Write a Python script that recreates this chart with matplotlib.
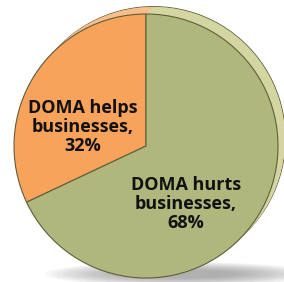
import numpy as np
import matplotlib.pyplot as plt
from matplotlib.patches import Ellipse

labels = ['DOMA helps\nbusinesses,\n32%', 'DOMA hurts\nbusinesses,\n68%']
shares = [32, 68]
front_colors = ['#F8A35C', '#B0B77D']
side_colors = ['#F6BE8A', '#D4D6A2']
edge = '#5E5E3C'

W, H = 284, 282
fig = plt.figure(figsize=(W / 100, H / 100), dpi=100)
ax = fig.add_axes([0, 0, 1, 1])

cx, cy, r = 146, 136, 132
off = np.array([7.5, 7.5])

# soft shadow under the disc
for i in range(14):
    ax.add_patch(Ellipse((180, 8), 270 - i * 12, 24 - i * 1.2,
                         color='#707070', alpha=0.05, lw=0, zorder=0))

# side of the disc (extrusion toward upper right)
ax.pie(shares, colors=side_colors, startangle=90, counterclock=True,
       center=(cx + off[0], cy + off[1]), radius=r,
       wedgeprops=dict(linewidth=0.6, edgecolor=edge), frame=True)
for t in np.linspace(0.92, 0.05, 12):
    ax.pie(shares, colors=side_colors, startangle=90, counterclock=True,
           center=(cx + off[0] * t, cy + off[1] * t), radius=r,
           wedgeprops=dict(linewidth=0), frame=True)

# front face
ax.pie(shares, colors=front_colors, startangle=90, counterclock=True,
       center=(cx, cy), radius=r,
       wedgeprops=dict(linewidth=0.8, edgecolor=edge), frame=True)

ax.set_xlim(0, W)
ax.set_ylim(0, H)
ax.axis('off')

font = dict(family=['Open Sans', 'DejaVu Sans'], fontweight='bold',
            fontsize=13, ha='center', va='center', linespacing=1.1,
            color='#111111', zorder=10)
ax.text(83, H - 127, labels[0], **font)
ax.text(186, H - 204, labels[1], **font)

fig.savefig('out.png', dpi=100)
